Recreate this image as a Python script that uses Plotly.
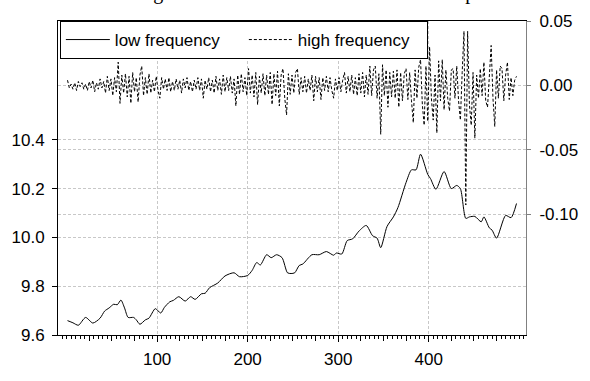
import plotly.graph_objects as go

# ---------------- data ----------------
lf_x = [1, 7, 13, 21, 29, 37, 42, 47, 52, 56, 60, 64, 68, 74, 77, 81, 87, 91, 98, 104,
        108, 114, 118, 124, 131, 137, 142, 149, 153, 158, 167, 175, 185, 191, 200, 205,
        210, 214, 221, 226, 232, 238, 244, 248, 252, 257, 261, 271, 279, 287, 295, 298,
        304, 310, 316, 323, 331, 338, 343, 347, 354, 361, 366, 375, 381, 386, 391, 399,
        402, 408, 417, 425, 431, 435, 441, 445, 451, 458, 461, 467, 470, 475, 485, 491, 497]
lf_y = [9.659, 9.650, 9.640, 9.672, 9.649, 9.669, 9.698, 9.711, 9.726, 9.724, 9.743, 9.711,
        9.672, 9.672, 9.662, 9.644, 9.662, 9.669, 9.708, 9.690, 9.713, 9.736, 9.742, 9.757,
        9.739, 9.757, 9.746, 9.769, 9.771, 9.794, 9.813, 9.842, 9.855, 9.839, 9.844, 9.865,
        9.897, 9.887, 9.929, 9.917, 9.929, 9.917, 9.855, 9.852, 9.855, 9.885, 9.891, 9.929,
        9.929, 9.942, 9.927, 9.936, 9.932, 9.987, 9.994, 10.026, 10.049, 10.007, 9.997, 9.958,
        10.045, 10.084, 10.122, 10.225, 10.277, 10.277, 10.341, 10.258, 10.241, 10.197, 10.270,
        10.200, 10.213, 10.200, 10.078, 10.084, 10.086, 10.064, 10.084, 10.039, 10.030, 9.997,
        10.090, 10.081, 10.139]

hf_x = list(range(1, 498, 2))
hf_y = [
    0.004, -0.002, 0.001, -0.003, 0.002, -0.004, 0.003, -0.001, 0.002, -0.003,
    0.001, -0.004, 0.003, -0.002, 0.004, -0.005, 0.002, -0.003, 0.005, -0.002,
    0.003, -0.006, 0.007, -0.004, 0.005, -0.008, 0.006, -0.005, 0.018, -0.014,
    0.008, -0.006, 0.009, -0.009, 0.007, -0.014, 0.010, -0.005, 0.006, -0.013,
    0.008, 0.015, -0.008, 0.006, -0.007, 0.009, -0.006, 0.004, -0.005, 0.007,
    -0.004, -0.010, 0.006, -0.003, 0.005, -0.004, 0.006, -0.005, 0.003, -0.004,
    0.005, -0.003, 0.004, -0.006, 0.005, -0.002, 0.006, -0.004, 0.003, -0.005,
    0.004, -0.003, 0.006, -0.004, 0.005, -0.010, 0.004, -0.003, 0.006, -0.005,
    0.004, -0.006, 0.007, -0.004, 0.005, -0.007, 0.008, -0.005, 0.006, -0.004,
    0.007, -0.006, 0.005, -0.016, 0.008, -0.007, 0.009, -0.005, 0.006, -0.008,
    0.013, -0.006, 0.008, -0.009, 0.010, -0.015, 0.007, -0.006, 0.009, -0.008,
    0.008, -0.007, 0.010, -0.015, 0.009, -0.008, 0.011, -0.016, 0.008, 0.013,
    -0.010, -0.023, 0.009, -0.007, 0.008, -0.006, 0.010, 0.013, -0.007, 0.006,
    -0.005, 0.007, -0.006, 0.005, -0.004, 0.008, -0.012, 0.007, -0.005, 0.006,
    -0.011, 0.006, -0.004, 0.007, -0.005, 0.006, -0.004, -0.010, 0.005, -0.004,
    0.006, -0.005, 0.004, 0.010, -0.006, 0.007, -0.005, 0.008, -0.007, 0.006,
    -0.008, 0.009, -0.006, 0.010, -0.009, 0.008, -0.007, 0.015, -0.008, 0.012,
    0.015, -0.010, 0.009, -0.038, 0.016, -0.008, 0.012, -0.017, 0.010, -0.009,
    0.011, -0.010, 0.012, -0.017, 0.010, -0.012, 0.009, 0.013, -0.011, 0.010,
    -0.012, -0.029, 0.012, -0.010, 0.014, 0.020, -0.015, -0.031, 0.015, -0.028,
    0.030, -0.010, -0.027, 0.008, -0.037, 0.019, -0.012, 0.020, -0.019, 0.012,
    -0.010, -0.020, 0.012, 0.013, -0.010, 0.015, -0.012, -0.027, 0.010, 0.042,
    -0.093, 0.042, -0.015, -0.031, 0.010, -0.041, 0.008, -0.010, 0.013, -0.008,
    0.018, -0.012, -0.017, 0.010, 0.031, -0.010, -0.032, 0.012, -0.010, 0.015,
    0.013, -0.012, 0.008, 0.018, -0.011, 0.006, -0.008, 0.004, 0.007,
]

x_major = [100, 200, 300, 400]
x_mid = [v for v in range(25, 500, 25) if v % 100 != 0]
y_left_ticks = [9.6, 9.8, 10.0, 10.2, 10.4]
y_right_ticks = [-0.10, -0.05, 0.00, 0.05]
y_right_labels = ["-0.10", "-0.05", "0.00", "0.05"]

title_text = "Log of the real estate index and its decomposition"

# ---------------- figure ----------------
FONT = "Liberation Sans, Arial, sans-serif"
GRID = "#c8c8c8"

fig = go.Figure()
fig.add_trace(go.Scatter(x=lf_x, y=lf_y, name="low frequency", mode="lines",
                         line=dict(color="black", width=1, shape="spline", smoothing=0.7),
                         yaxis="y"))
fig.add_trace(go.Scatter(x=hf_x, y=hf_y, name="high frequency", mode="lines",
                         line=dict(color="black", width=1, dash="3px,2px"),
                         yaxis="y2"))

fig.update_layout(
    width=590, height=381,
    margin=dict(l=57, r=53, t=19, b=29, pad=0),
    paper_bgcolor="white", plot_bgcolor="white",
    font=dict(family=FONT, size=17, color="black"),
    showlegend=True,
    legend=dict(orientation="h", x=0.004, y=1.0, xanchor="left", yanchor="top",
                bgcolor="white", bordercolor="black", borderwidth=1,
                font=dict(size=17), itemwidth=44, tracegroupgap=0,
                entrywidth=124, entrywidthmode="pixels"),
    xaxis=dict(range=[-9.5, 507.5], tickmode="array", tickvals=x_major,
               ticktext=[str(v) for v in x_major],
               showgrid=True, gridcolor=GRID, griddash="3px,2px", gridwidth=1,
               showline=True, linecolor="black", linewidth=1, mirror=True,
               ticks="outside", ticklen=6, tickcolor="black", zeroline=False,
               ticklabelstandoff=3,
               minor=dict(tickmode="linear", tick0=0, dtick=5, ticks="outside",
                          ticklen=3, tickcolor="black", showgrid=False)),
    xaxis2=dict(overlaying="x", matches="x", side="bottom", tickmode="array",
                tickvals=x_mid, showticklabels=False, ticks="outside", ticklen=5,
                tickcolor="black", showgrid=False, showline=False, zeroline=False),
    yaxis=dict(range=[9.6, 10.887], tickmode="array", tickvals=y_left_ticks,
               tickformat=".1f", showgrid=True, gridcolor=GRID, griddash="3px,2px",
               showline=True, linecolor="black", linewidth=1, ticks="outside",
               ticklen=5, tickcolor="black", zeroline=False, ticklabelstandoff=4),
    yaxis2=dict(range=[-0.194, 0.05], overlaying="y", side="right", tickmode="array",
                tickvals=y_right_ticks, ticktext=y_right_labels, showgrid=True,
                gridcolor=GRID, griddash="3px,2px", showline=True,
                linecolor="#808080", linewidth=1, ticks="outside", ticklen=4,
                tickcolor="#808080", zeroline=False, ticklabelstandoff=5),
    annotations=[dict(text=title_text, xref="paper", yref="paper", x=(130 - 57) / 480,
                      y=1, xanchor="left", yanchor="bottom", yshift=15, showarrow=False,
                      font=dict(family="Liberation Serif, Times New Roman, serif", size=20))],
)
# invisible helper trace so the 25-step tick axis is drawn
fig.add_trace(go.Scatter(x=[lf_x[0]], y=[lf_y[0]], xaxis="x2", yaxis="y", mode="markers",
                         marker=dict(opacity=0), showlegend=False, hoverinfo="skip"))

fig.write_html("out.html")
